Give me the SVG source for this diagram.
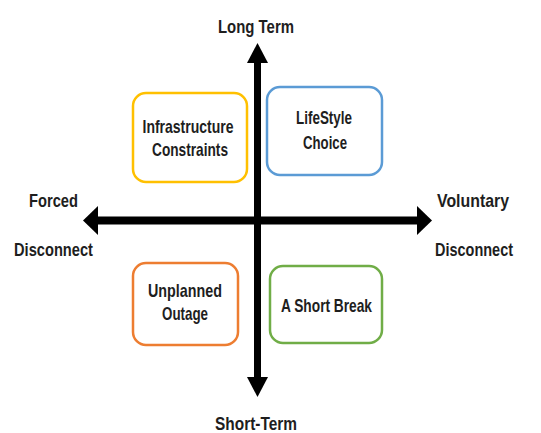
<svg xmlns="http://www.w3.org/2000/svg" width="541" height="433" viewBox="0 0 541 433">
<style>
text{font-family:"Liberation Sans",Arial,sans-serif;font-weight:bold;font-size:18.5px;fill:#1e1e1e;text-anchor:middle}
.box{fill:#fff;stroke-width:2.5}
.ax{fill:#000}
</style>
<rect width="541" height="433" fill="#fff"/>
<g id="connectors">
  <rect class="ax" x="254" y="60" width="7" height="320"/>
  <polygon class="ax" points="247,63 257.5,43 268,63"/>
  <polygon class="ax" points="247,377 257.5,397 268,377"/>
  <rect class="ax" x="95" y="216.5" width="325" height="8"/>
  <polygon class="ax" points="98,206 83,220.5 98,235"/>
  <polygon class="ax" points="417,206 432,220.5 417,235"/>
</g>
<g id="long-term"><text x="256" y="33" textLength="76" lengthAdjust="spacingAndGlyphs">Long Term</text></g>
<g id="short-term"><text x="256" y="430" textLength="82" lengthAdjust="spacingAndGlyphs">Short-Term</text></g>
<g id="forced">
  <text x="53.5" y="207" textLength="49" lengthAdjust="spacingAndGlyphs">Forced</text>
  <text x="53.5" y="256" textLength="79" lengthAdjust="spacingAndGlyphs">Disconnect</text>
</g>
<g id="voluntary">
  <text x="473" y="207" textLength="72" lengthAdjust="spacingAndGlyphs">Voluntary</text>
  <text x="474" y="256" textLength="78" lengthAdjust="spacingAndGlyphs">Disconnect</text>
</g>
<g id="infrastructure">
  <rect class="box" x="133" y="93" width="114" height="89" rx="13" stroke="#FFC000"/>
  <text x="188" y="133" textLength="91" lengthAdjust="spacingAndGlyphs">Infrastructure</text>
  <text x="190" y="156" textLength="76" lengthAdjust="spacingAndGlyphs">Constraints</text>
</g>
<g id="lifestyle">
  <rect class="box" x="267" y="87" width="115" height="88" rx="13" stroke="#5B9BD5"/>
  <text x="324" y="124" textLength="56" lengthAdjust="spacingAndGlyphs">LifeStyle</text>
  <text x="325" y="149" textLength="44" lengthAdjust="spacingAndGlyphs">Choice</text>
</g>
<g id="unplanned">
  <rect class="box" x="133" y="263" width="105" height="82" rx="13" stroke="#ED7D31"/>
  <text x="185" y="297" textLength="74" lengthAdjust="spacingAndGlyphs">Unplanned</text>
  <text x="185" y="320" textLength="46" lengthAdjust="spacingAndGlyphs">Outage</text>
</g>
<g id="short-break">
  <rect class="box" x="270" y="266" width="112" height="77" rx="13" stroke="#70AD47"/>
  <text x="326.5" y="312" textLength="91" lengthAdjust="spacingAndGlyphs">A Short Break</text>
</g>
</svg>
